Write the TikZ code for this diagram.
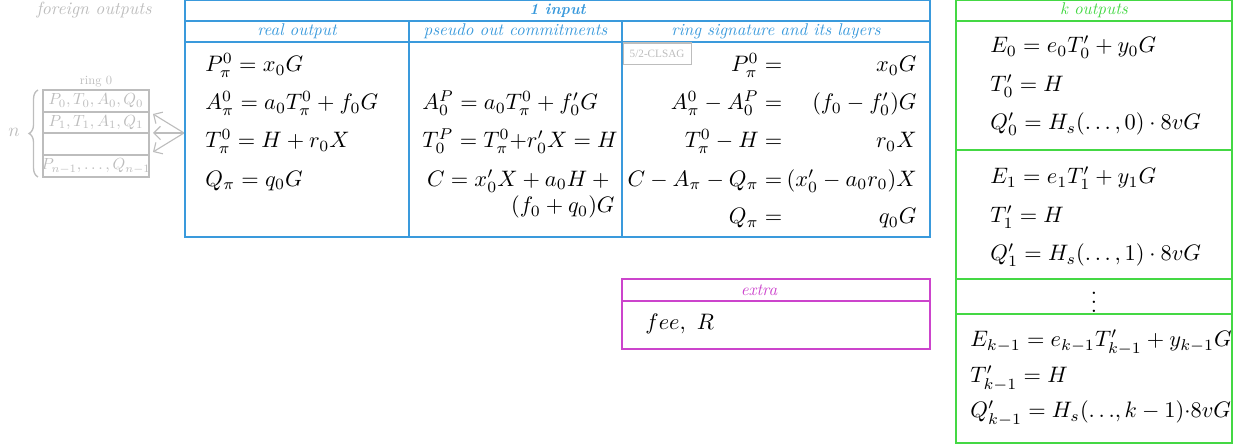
\documentclass[tikz,border=0pt]{standalone}
\usepackage{graphicx}
\usepackage{fontspec}
\newfontfamily\timesf{Liberation Serif}
\usetikzlibrary{decorations.pathreplacing,arrows.meta}
\definecolor{cblue}{HTML}{3A9ADC}
\definecolor{cgreen}{HTML}{44D844}
\definecolor{cmag}{HTML}{CC44CC}
\definecolor{cgray}{HTML}{BDBDBD}
\newcommand\hdtxt[2][0.76]{\scalebox{#1}{\itshape #2}}
\newcommand\hdbold[1]{\scalebox{0.7}{\bfseries\itshape #1}}
\newcommand\smallmath[1]{\scalebox{0.72}{$#1$}}
\tikzset{
  bline/.style={draw=cblue, line width=0.7pt},
  gline/.style={draw=cgreen, line width=0.7pt},
  mline/.style={draw=cmag, line width=0.7pt},
  grline/.style={draw=cgray, line width=0.6pt},
  hd/.style={inner sep=0pt},
  eqw/.style={anchor=base west, inner sep=0pt},
  eqe/.style={anchor=base east, inner sep=0pt},
  ringtxt/.style={text=cgray, inner sep=0pt},
  garrow/.style={draw=cgray, line width=0.5pt, -{Straight Barb[length=3pt, width=6pt]}},
}
\begin{document}
\begin{tikzpicture}[x=0.447pt,y=-0.447pt]
\useasboundingbox (0,0) rectangle (1242,445);

% ---------- foreign outputs ----------
\node[hd, text=cgray] (fohd) at (94,10) {\hdtxt[0.79]{foreign outputs}};
\node[ringtxt] (ring0) at (96,82) {\scalebox{0.56}{ring 0}};
\draw[grline] (43,90) rectangle (149,177);
\draw[grline] (43,112) -- (149,112);
\draw[grline] (43,133) -- (149,133);
\draw[grline] (43,155) -- (149,155);
\node[ringtxt] (r1) at (96,101) {\smallmath{P_0, T_0, A_0, Q_0}};
\node[ringtxt] (r2) at (96,122.5) {\smallmath{P_1, T_1, A_1, Q_1}};
\node[ringtxt] (r4) at (96,166) {\smallmath{P_{n-1}, \ldots, Q_{n-1}}};
\draw[draw=cgray, line width=0.6pt, decorate, decoration={brace, amplitude=4pt}] (38,177) -- (38,90);
\node[text=cgray, inner sep=0pt] (nlab) at (14,132) {\scalebox{0.85}{$n$}};
\coordinate (src) at (184,133);
\coordinate (t1) at (153,114);
\coordinate (t2) at (153,133);
\coordinate (t3) at (153,152);
\draw[garrow] (src) -- (t1);
\draw[garrow] (src) -- (t2);
\draw[garrow] (src) -- (t3);

% ---------- 1 input ----------
\draw[bline] (185,0.7) rectangle (930,237);
\draw[bline] (185,21) -- (930,21);
\draw[bline] (185,42) -- (930,42);
\draw[bline] (409,21) -- (409,237);
\draw[bline] (622,21) -- (622,237);
\node[hd, text=cblue] (inhd) at (557.5,10.5) {\hdbold{1 input}};
\node[hd, text=cblue] (rohd) at (297,31.5) {\hdtxt{real output}};
\node[hd, text=cblue] (pohd) at (515.5,31.5) {\hdtxt{pseudo out commitments}};
\node[hd, text=cblue] (rshd) at (776,31.5) {\hdtxt{ring signature and its layers}};

% real output
\node[eqw] (ro1) at (205,72) {$P^0_\pi = x_0G$};
\node[eqw] (ro2) at (205,110) {$A^0_\pi = a_0T^0_\pi + f_0G$};
\node[eqw] (ro3) at (205,148) {$T^0_\pi = H + r_0X$};
\node[eqw] (ro4) at (205,186.5) {$Q_\pi = q_0G$};

% pseudo out
\node[eqw] (po1) at (422,110) {$A^P_0 = a_0T^0_\pi + f'_0G$};
\node[eqw] (po2) at (422,148) {$T^P_0 = T^0_\pi{+}r'_0X = H$};
\node[eqe] (po3) at (615,186.5) {$C = x'_0X + a_0H +{}$};
\node[eqe] (po4) at (615,213) {$(f_0 + q_0)G$};

% ring signature
\node[draw=cgray, line width=0.5pt, text=cgray, anchor=north west, inner sep=0pt,
  minimum width=30.4pt, minimum height=9.4pt, font=\timesf\fontsize{5}{6}\selectfont] (clsag) at (622.5,42.5) {5/2-CLSAG};
\node[eqe] (rs1l) at (789,72) {$P^0_\pi ={}$};
\node[eqe] (rs1r) at (917,72) {$x_0G$};
\node[eqe] (rs2l) at (789,110) {$A^0_\pi - A^P_0 ={}$};
\node[eqe] (rs2r) at (917,110) {$(f_0 - f'_0)G$};
\node[eqe] (rs3l) at (789,148) {$T^0_\pi - H ={}$};
\node[eqe] (rs3r) at (917,148) {$r_0X$};
\node[eqe] (rs4l) at (789,186.5) {$C - A_\pi - Q_\pi ={}$};
\node[eqe] (rs4r) at (917,186.5) {$(x'_0 - a_0r_0)X$};
\node[eqe] (rs5l) at (789,224) {$Q_\pi ={}$};
\node[eqe] (rs5r) at (917,224) {$q_0G$};

% ---------- extra ----------
\draw[mline] (622,279) rectangle (930,349);
\draw[mline] (622,301) -- (930,301);
\node[hd, text=cmag] (exhd) at (759,290) {\hdtxt{extra}};
\node[eqw] (ex1) at (645,330) {$fee,\ R$};

% ---------- k outputs ----------
\draw[gline] (956,0.7) rectangle (1232,443);
\draw[gline] (956,21) -- (1232,21);
\draw[gline] (956,150) -- (1232,150);
\draw[gline] (956,279) -- (1232,279);
\draw[gline] (956,314) -- (1232,314);
\node[hd, text=cgreen] (kohd) at (1094,10.5) {\hdtxt{k outputs}};
\node[eqw] (k01) at (990,53) {$E_0 = e_0T'_0 + y_0G$};
\node[eqw] (k02) at (990,91.5) {$T'_0 = H$};
\node[eqw] (k03) at (990,130) {$Q'_0 = H_s(\ldots,0) \cdot 8vG$};
\node[eqw] (k11) at (990,184) {$E_1 = e_1T'_1 + y_1G$};
\node[eqw] (k12) at (990,222.5) {$T'_1 = H$};
\node[eqw] (k13) at (990,261) {$Q'_1 = H_s(\ldots,1) \cdot 8vG$};
\node[inner sep=0pt] (kdots) at (1094,296) {$\vdots$};
\node[eqw] (kk1) at (970,347) {$E_{k-1} = e_{k-1}T'_{k-1} + y_{k-1}G$};
\node[eqw] (kk2) at (970,383) {$T'_{k-1} = H$};
\node[eqw] (kk3) at (970,418) {$Q'_{k-1} = H_s({\ldots},k-1){\cdot}8vG$};
\end{tikzpicture}
\end{document}
